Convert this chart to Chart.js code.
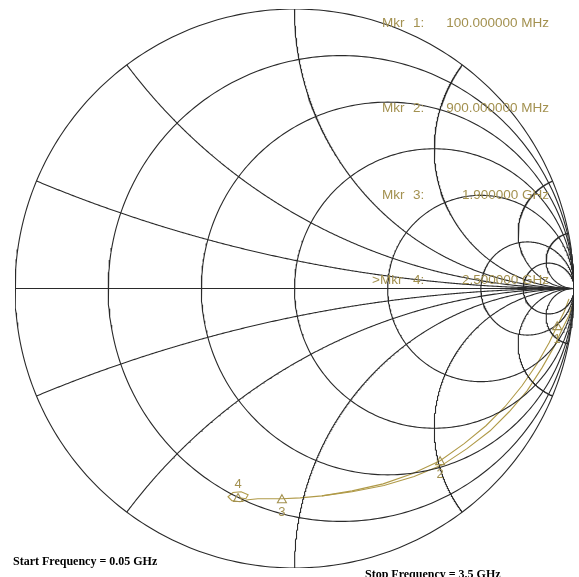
<!DOCTYPE html>
<html>
<head>
<meta charset="utf-8">
<script src="https://cdn.jsdelivr.net/npm/chart.js@4"></script>
<style>
  html, body { margin: 0; padding: 0; background: #ffffff; }
  #wrap { width: 579px; height: 577px; position: relative; }
</style>
</head>
<body>
<div id="wrap"><canvas id="smith" width="579" height="577"></canvas></div>
<script>
// Smith chart grid values (normalized impedance)
const resistanceCircles = [0.2, 0.5, 1, 2, 5, 10];
const reactanceArcs = [0.2, 0.5, 1, 2, 5, 10];

// Measured reflection coefficient trace (real / imaginary parts of S11)
const traceRe = [0.982, 0.965, 0.940, 0.911, 0.868, 0.814, 0.753, 0.685, 0.607, 0.521,
                 0.421, 0.317, 0.206, 0.098, 0.020, -0.045, -0.131, -0.166, -0.195, -0.224,
                 -0.238, -0.220, -0.191, -0.166, -0.174, -0.202];
const traceIm = [-0.037, -0.083, -0.133, -0.194, -0.269, -0.348, -0.423, -0.491, -0.555, -0.616,
                 -0.663, -0.699, -0.724, -0.742, -0.749, -0.752, -0.752, -0.756, -0.763, -0.759,
                 -0.745, -0.730, -0.727, -0.738, -0.752, -0.748];

// Second sweep branch running just outside the first one
const trace2Re = [0.997, 0.982, 0.957, 0.929, 0.886, 0.832, 0.768, 0.700, 0.617, 0.531,
                  0.428, 0.320, 0.206, 0.098];
const trace2Im = [-0.051, -0.097, -0.147, -0.208, -0.283, -0.366, -0.441, -0.509, -0.573, -0.630,
                  -0.673, -0.705, -0.727, -0.742];

// Markers: index into the trace, readout text
const markerIndex = [2, 9, 15, 25];
const markerNames = ['1', '2', '3', '4'];
const markerReadout = ['100.000000 MHz', '900.000000 MHz', '1.900000 GHz', '2.500000 GHz'];
const activeMarker = 3;

const startText = 'Start Frequency = 0.05 GHz';
const stopText = 'Stop Frequency = 3.5 GHz';

const GRID = '#2a2a2a';
const TRACE = '#b09a48';
const MARK = '#a39150';

function gamma(r, x) {
  // (z - 1) / (z + 1)
  const a = r - 1, b = x, c = r + 1, d = x;
  const den = c * c + d * d;
  return { x: (a * c + b * d) / den, y: (b * c - a * d) / den };
}

function circlePts(cx, cy, rad) {
  const pts = [];
  for (let i = 0; i <= 360; i++) {
    const t = i * Math.PI / 180;
    pts.push({ x: cx + rad * Math.cos(t), y: cy + rad * Math.sin(t) });
  }
  return pts;
}

function reactancePts(xv) {
  const pts = [];
  for (let i = 0; i < 400; i++) {
    const r = Math.tan(i / 400 * Math.PI / 2);
    pts.push(gamma(r, xv));
  }
  pts.push({ x: 1, y: 0 });
  return pts;
}

function gridSet(data) {
  return { data, borderColor: GRID, borderWidth: 1.1, pointRadius: 0, showLine: true, tension: 0, fill: false };
}

function traceSet(re, im) {
  return {
    data: re.map((v, i) => ({ x: v, y: im[i] })),
    borderColor: TRACE, borderWidth: 1.1, pointRadius: 0, showLine: true, tension: 0, fill: false
  };
}

const datasets = [];
datasets.push(gridSet(circlePts(0, 0, 1)));
datasets.push(gridSet([{ x: -1, y: 0 }, { x: 1, y: 0 }]));
resistanceCircles.forEach(r => datasets.push(gridSet(circlePts(r / (1 + r), 0, 1 / (1 + r)))));
reactanceArcs.forEach(xv => {
  datasets.push(gridSet(reactancePts(xv)));
  datasets.push(gridSet(reactancePts(-xv)));
});
datasets.push(traceSet(trace2Re, trace2Im));
datasets.push(traceSet(traceRe, traceIm));

const labelsPlugin = {
  id: 'smithText',
  afterDatasetsDraw(chart) {
    const ctx = chart.ctx;
    const xs = chart.scales.x, ys = chart.scales.y;
    ctx.save();
    // marker symbols
    ctx.strokeStyle = MARK;
    ctx.fillStyle = MARK;
    ctx.lineWidth = 1.1;
    ctx.font = '13px "Liberation Sans", Arial, sans-serif';
    ctx.textAlign = 'center';
    ctx.textBaseline = 'middle';
    markerIndex.forEach((idx, k) => {
      const px = xs.getPixelForValue(traceRe[idx]);
      const py = ys.getPixelForValue(traceIm[idx]);
      ctx.beginPath();
      ctx.moveTo(px, py - 4);
      ctx.lineTo(px + 4.5, py + 4);
      ctx.lineTo(px - 4.5, py + 4);
      ctx.closePath();
      ctx.stroke();
      const above = k === activeMarker;
      ctx.fillText(markerNames[k], px, above ? py - 13 : py + 14);
    });
    // marker readouts
    ctx.font = '13.5px "Liberation Sans", Arial, sans-serif';
    ctx.textBaseline = 'alphabetic';
    const rows = [27, 112, 199, 284];
    markerReadout.forEach((txt, k) => {
      ctx.textAlign = 'left';
      ctx.fillText((k === activeMarker ? '>' : '') + 'Mkr', k === activeMarker ? 372 : 382, rows[k]);
      ctx.fillText(markerNames[k] + ':', 413, rows[k]);
      ctx.textAlign = 'right';
      ctx.fillText(txt, 549, rows[k]);
    });
    // sweep range
    ctx.fillStyle = '#000000';
    ctx.textAlign = 'left';
    ctx.font = 'bold 12px "Liberation Serif", "Times New Roman", serif';
    ctx.fillText(startText, 13, 565);
    ctx.fillText(stopText, 365, 578);
    ctx.restore();
  }
};

new Chart(document.getElementById('smith'), {
  type: 'scatter',
  data: { datasets },
  options: {
    responsive: false,
    animation: false,
    devicePixelRatio: 1,
    layout: { padding: { left: 15, right: 5, top: 9, bottom: 9 } },
    scales: {
      x: { type: 'linear', min: -1, max: 1, display: false },
      y: { type: 'linear', min: -1, max: 1, display: false }
    },
    plugins: { legend: { display: false }, tooltip: { enabled: false } },
    elements: { line: { capBezierPoints: false } }
  },
  plugins: [labelsPlugin]
});
</script>
</body>
</html>
